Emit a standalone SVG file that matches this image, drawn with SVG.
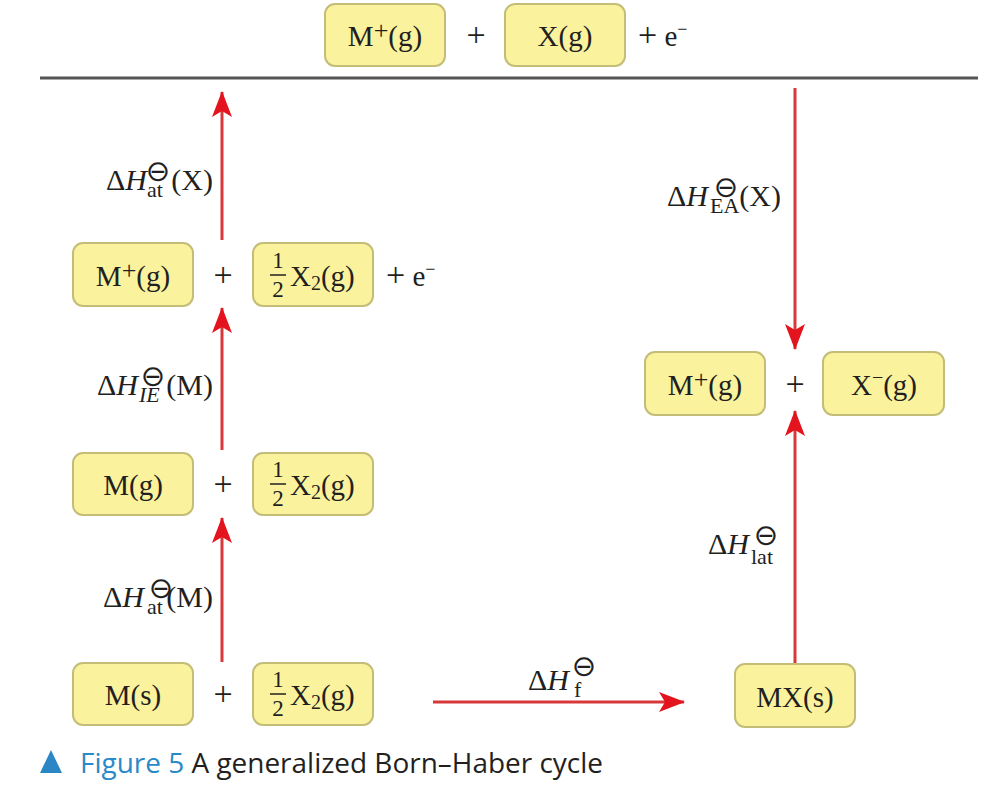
<svg xmlns="http://www.w3.org/2000/svg" width="1005" height="798" viewBox="0 0 1005 798">
<style>
.box{fill:#faf29c;stroke:#c4bd78;stroke-width:2}
.t{font-family:"Liberation Serif","Times New Roman",serif;font-size:29px;fill:#231f20}
.pl{font-family:"Liberation Serif","Times New Roman",serif;font-size:34px;fill:#231f20}
.l{font-family:"Liberation Serif","Times New Roman",serif;font-size:30px;fill:#231f20}
.s{font-family:"Liberation Serif","Times New Roman",serif;font-size:22px;fill:#231f20}
.fr{font-family:"Liberation Serif","Times New Roman",serif;font-size:23px;fill:#231f20}
.p{font-family:"DejaVu Sans",sans-serif;font-size:29px;fill:#231f20}
.arr{stroke:#d8383a;stroke-width:3;fill:none}
.bar{stroke:#231f20;stroke-width:1.5}
</style>
<defs>
<marker id="ah" viewBox="0 0 26 20" refX="25" refY="10" markerWidth="26" markerHeight="20" markerUnits="userSpaceOnUse" orient="auto">
<path d="M0,0 L26,10 L0,20 L6,10 Z" fill="#e3141e"/>
</marker>
</defs>
<rect width="1005" height="798" fill="#ffffff"/>

<line x1="40" y1="78" x2="978" y2="78" stroke="#555555" stroke-width="3"/>

<g id="top-Mplus">
<rect class="box" x="325" y="4" width="120" height="62" rx="10"/>
<text class="t" x="385" y="46" text-anchor="middle">M<tspan dy="-7" font-size="26">+</tspan><tspan dy="7">(g)</tspan></text>
</g>
<text class="pl" x="476" y="46" text-anchor="middle">+</text>
<g id="top-X">
<rect class="box" x="505" y="4" width="120" height="62" rx="10"/>
<text class="t" x="565" y="46" text-anchor="middle">X(g)</text>
</g>
<text class="pl" x="638" y="46">+<tspan font-size="29"> e</tspan><tspan dy="-11" font-size="18">−</tspan></text>

<g id="row2-Mplus">
<rect class="box" x="73" y="243" width="120" height="63" rx="10"/>
<text class="t" x="133" y="286" text-anchor="middle">M<tspan dy="-7" font-size="26">+</tspan><tspan dy="7">(g)</tspan></text>
</g>
<text class="pl" x="223" y="286" text-anchor="middle">+</text>
<g id="row2-X2">
<rect class="box" x="253" y="243" width="120" height="63" rx="10"/>
<text class="fr" x="278" y="268" text-anchor="middle">1</text>
<line class="bar" x1="270" y1="275" x2="286" y2="275"/>
<text class="fr" x="278" y="297" text-anchor="middle">2</text>
<text class="t" x="290" y="286">X<tspan dy="4" font-size="20">2</tspan><tspan dy="-4">(g)</tspan></text>
</g>
<text class="pl" x="386" y="286">+<tspan font-size="29"> e</tspan><tspan dy="-11" font-size="18">−</tspan></text>

<g id="row3-M">
<rect class="box" x="73" y="453" width="120" height="62" rx="10"/>
<text class="t" x="133" y="495" text-anchor="middle">M(g)</text>
</g>
<text class="pl" x="223" y="495" text-anchor="middle">+</text>
<g id="row3-X2">
<rect class="box" x="253" y="453" width="120" height="62" rx="10"/>
<text class="fr" x="278" y="477" text-anchor="middle">1</text>
<line class="bar" x1="270" y1="484" x2="286" y2="484"/>
<text class="fr" x="278" y="506" text-anchor="middle">2</text>
<text class="t" x="290" y="495">X<tspan dy="4" font-size="20">2</tspan><tspan dy="-4">(g)</tspan></text>
</g>

<g id="row4-M">
<rect class="box" x="73" y="663" width="120" height="62" rx="10"/>
<text class="t" x="133" y="705" text-anchor="middle">M(s)</text>
</g>
<text class="pl" x="223" y="705" text-anchor="middle">+</text>
<g id="row4-X2">
<rect class="box" x="253" y="663" width="120" height="62" rx="10"/>
<text class="fr" x="278" y="687" text-anchor="middle">1</text>
<line class="bar" x1="270" y1="694" x2="286" y2="694"/>
<text class="fr" x="278" y="716" text-anchor="middle">2</text>
<text class="t" x="290" y="705">X<tspan dy="4" font-size="20">2</tspan><tspan dy="-4">(g)</tspan></text>
</g>

<g id="right-Mplus">
<rect class="box" x="645" y="352" width="120" height="63" rx="10"/>
<text class="t" x="705" y="395" text-anchor="middle">M<tspan dy="-7" font-size="26">+</tspan><tspan dy="7">(g)</tspan></text>
</g>
<text class="pl" x="795" y="395" text-anchor="middle">+</text>
<g id="right-Xminus">
<rect class="box" x="823" y="352" width="121" height="63" rx="10"/>
<text class="t" x="884" y="395" text-anchor="middle">X<tspan dy="-11" font-size="20">−</tspan><tspan dy="11">(g)</tspan></text>
</g>

<g id="MX">
<rect class="box" x="735" y="664" width="120" height="63" rx="10"/>
<text class="t" x="795" y="707" text-anchor="middle">MX(s)</text>
</g>

<g id="connectors">
<line class="arr" x1="222" y1="240" x2="222" y2="92" marker-end="url(#ah)"/>
<line class="arr" x1="222" y1="450" x2="222" y2="308" marker-end="url(#ah)"/>
<line class="arr" x1="222" y1="662" x2="222" y2="518" marker-end="url(#ah)"/>
<line class="arr" x1="433" y1="702" x2="684" y2="702" marker-end="url(#ah)"/>
<line class="arr" x1="795" y1="663" x2="795" y2="411" marker-end="url(#ah)"/>
<line class="arr" x1="795" y1="88" x2="795" y2="349" marker-end="url(#ah)"/>
</g>

<g id="label-atX">
<text class="l" x="106" y="190">Δ<tspan font-style="italic">H</tspan></text>
<text class="s" x="147" y="197">at</text>
<text class="p" x="158" y="181" text-anchor="middle">⊖</text>
<text class="l" x="213" y="190" text-anchor="end">(X)</text>
</g>
<g id="label-IE">
<text class="l" x="97" y="395">Δ<tspan font-style="italic">H</tspan></text>
<text class="s" x="139" y="402" font-style="italic">IE</text>
<text class="p" x="153" y="386" text-anchor="middle">⊖</text>
<text class="l" x="213" y="395" text-anchor="end">(M)</text>
</g>
<g id="label-atM">
<text class="l" x="103" y="607">Δ<tspan font-style="italic">H</tspan></text>
<text class="s" x="147" y="614">at</text>
<text class="p" x="161" y="598" text-anchor="middle">⊖</text>
<text class="l" x="213" y="607" text-anchor="end">(M)</text>
</g>
<g id="label-EA">
<text class="l" x="667" y="206">Δ<tspan font-style="italic">H</tspan></text>
<text class="s" x="710" y="213">EA</text>
<text class="p" x="726" y="197" text-anchor="middle">⊖</text>
<text class="l" x="781" y="206" text-anchor="end">(X)</text>
</g>
<g id="label-lat">
<text class="l" x="708" y="554">Δ<tspan font-style="italic">H</tspan></text>
<text class="s" x="751" y="564">lat</text>
<text class="p" x="766" y="545" text-anchor="middle">⊖</text>
</g>
<g id="label-f">
<text class="l" x="528" y="690">Δ<tspan font-style="italic">H</tspan></text>
<text class="s" x="574" y="697">f</text>
<text class="p" x="584" y="676" text-anchor="middle">⊖</text>
</g>

<g id="caption">
<polygon points="40,773 51,750 62,773" fill="#2a86c5"/>
<text x="80" y="773" font-family="'Open Sans','Liberation Sans',sans-serif" font-size="27" fill="#231f20" textLength="523" lengthAdjust="spacingAndGlyphs"><tspan fill="#2a8ac8">Figure 5</tspan> A generalized Born–Haber cycle</text>
</g>
</svg>
